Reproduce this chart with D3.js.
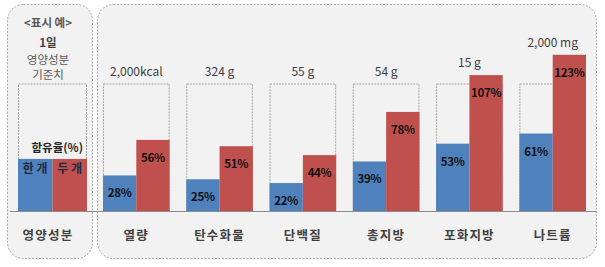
<!DOCTYPE html>
<html>
<head>
<meta charset="utf-8">
<script src="https://cdn.jsdelivr.net/npm/d3@7"></script>
<style>
body { margin:0; background:#fff; }
svg { display:block; font-family:"Noto Sans CJK KR","Noto Sans",sans-serif; }
</style>
</head>
<body>
<svg width="605" height="267"></svg>
<script>
// 데이터
var categories = ["열량", "탄수화물", "단백질", "총지방", "포화지방", "나트륨"];
var units = ["2,000kcal", "324 g", "55 g", "54 g", "15 g", "2,000 mg"];
var oneItem = [28, 25, 22, 39, 53, 61];
var twoItems = [56, 51, 44, 78, 107, 123];
var series = ["한 개", "두 개"];
var exampleValue = 41;

var svg = d3.select("svg");
var colori = ["#4f81bd", "#c0504d"];
var base = 211;

var y = d3.scaleLinear().domain([0, 100]).range([base, 84]);
var x0 = d3.scaleBand().domain(categories).range([103, 586]).paddingInner(0.2).paddingOuter(0);
var x1 = d3.scaleBand().domain(series).range([0, x0.bandwidth()]);

// pannelli
svg.append("rect").attr("x", 7.5).attr("y", 4.5).attr("width", 85).attr("height", 254)
	.attr("rx", 16).attr("fill", "#f2f2f2").attr("stroke", "#a6a6a6").attr("stroke-dasharray", "2,1.5")
svg.append("rect").attr("x", 97.5).attr("y", 4.5).attr("width", 499).attr("height", 254)
	.attr("rx", 16).attr("fill", "#f2f2f2").attr("stroke", "#a6a6a6").attr("stroke-dasharray", "2,1.5")

// esempio a sinistra
var ex = d3.scaleBand().domain(series).range([18, 87]);
svg.append("rect").attr("x", 18.5).attr("y", y(100)).attr("width", 68).attr("height", base - y(100))
	.attr("fill", "none").attr("stroke", "#a6a6a6").attr("stroke-dasharray", "2,1")
svg.selectAll(".exbar").data(series).enter().append("rect")
	.attr("x", function(d){ return ex(d) })
	.attr("y", y(exampleValue))
	.attr("width", ex.bandwidth())
	.attr("height", base - y(exampleValue))
	.attr("fill", function(d,i){ return colori[i] })
svg.selectAll(".exlab").data(series).enter().append("text")
	.attr("x", function(d){ return ex(d) + ex.bandwidth()/2 })
	.attr("y", y(exampleValue) + 14)
	.attr("text-anchor", "middle").attr("font-size", 12).attr("font-weight", "bold")
	.attr("fill", "#1f2a44").text(function(d){ return d })
svg.append("text").attr("x", 83).attr("y", 152).attr("text-anchor", "end")
	.attr("font-size", 11.5).attr("font-weight", "bold").attr("fill", "#262626").text("함유율(%)")

var topTexts = [["<표시 예>", 27, "bold", "#595959"], ["1일", 47, "bold", "#404040"],
	["영양성분", 64, "normal", "#595959"], ["기준치", 79, "normal", "#595959"]];
svg.selectAll(".toptxt").data(topTexts).enter().append("text")
	.attr("x", 48).attr("y", function(d){ return d[1] })
	.attr("text-anchor", "middle").attr("font-size", 11.5)
	.attr("font-weight", function(d){ return d[2] }).attr("fill", function(d){ return d[3] })
	.text(function(d){ return d[0] })

// gruppi
var gruppi = svg.selectAll(".gruppo").data(categories).enter().append("g")
	.attr("transform", function(d){ return "translate(" + x0(d) + ",0)" })

gruppi.append("rect").attr("x", 0.5).attr("y", y(100)).attr("width", x0.bandwidth() - 1)
	.attr("height", base - y(100)).attr("fill", "none").attr("stroke", "#a6a6a6").attr("stroke-dasharray", "2,1")

gruppi.each(function(d, i){
	var g = d3.select(this);
	var vals = [oneItem[i], twoItems[i]];
	g.selectAll("rect.bar").data(vals).enter().append("rect").attr("class", "bar")
		.attr("x", function(v, j){ return x1(series[j]) })
		.attr("y", function(v){ return y(v) })
		.attr("width", x1.bandwidth())
		.attr("height", function(v){ return base - y(v) })
		.attr("fill", function(v, j){ return colori[j] })
	g.selectAll("text.val").data(vals).enter().append("text").attr("class", "val")
		.attr("x", function(v, j){ return x1(series[j]) + x1.bandwidth()/2 })
		.attr("y", function(v){ return y(v) + 22 })
		.attr("text-anchor", "middle").attr("font-size", 11.5).attr("font-weight", "bold")
		.attr("letter-spacing", -0.3)
		.attr("fill", "#111").text(function(v){ return v + "%" })
	var alto = Math.min(y(100), y(d3.max(vals)));
	g.append("text").attr("x", x0.bandwidth()/2).attr("y", alto - 8)
		.attr("text-anchor", "middle").attr("font-size", 12).attr("fill", "#404040")
		.text(units[i])
	g.append("text").attr("x", x0.bandwidth()/2).attr("y", 240)
		.attr("text-anchor", "middle").attr("font-size", 12.5).attr("font-weight", "bold")
		.attr("letter-spacing", 1.2)
		.attr("fill", "#404040").text(d)
})

svg.append("text").attr("x", 48).attr("y", 240).attr("text-anchor", "middle")
	.attr("font-size", 12.5).attr("font-weight", "bold").attr("letter-spacing", 1.2)
	.attr("fill", "#404040").text("영양성분")

// linea di base
svg.append("line").attr("x1", 10).attr("x2", 597).attr("y1", base + 0.5).attr("y2", base + 0.5)
	.attr("stroke", "#8c8c8c").attr("stroke-width", 1)
</script>
</body>
</html>
